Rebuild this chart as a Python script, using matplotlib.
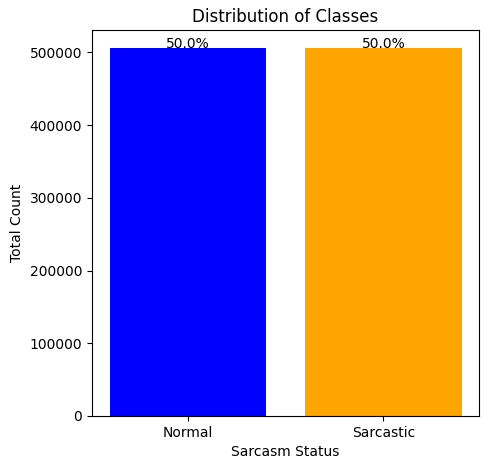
import matplotlib
matplotlib.use("Agg")
import matplotlib.pyplot as plt

classes = ['Normal', 'Sarcastic']
counts = [505413, 505413]
colors = ['blue', 'orange']

total = sum(counts)

fig = plt.figure(figsize=(4.89, 4.7), dpi=100)
plt.subplots_adjust(left=0.188, right=0.98, top=0.936, bottom=0.115)
bars = plt.bar(classes, counts, color=colors)

for i, c in enumerate(counts):
    plt.text(i, c, f'{c / total * 100:.1f}%', ha='center')

plt.xlabel('Sarcasm Status')
plt.ylabel('Total Count')
plt.title('Distribution of Classes')
plt.savefig('out.png')
